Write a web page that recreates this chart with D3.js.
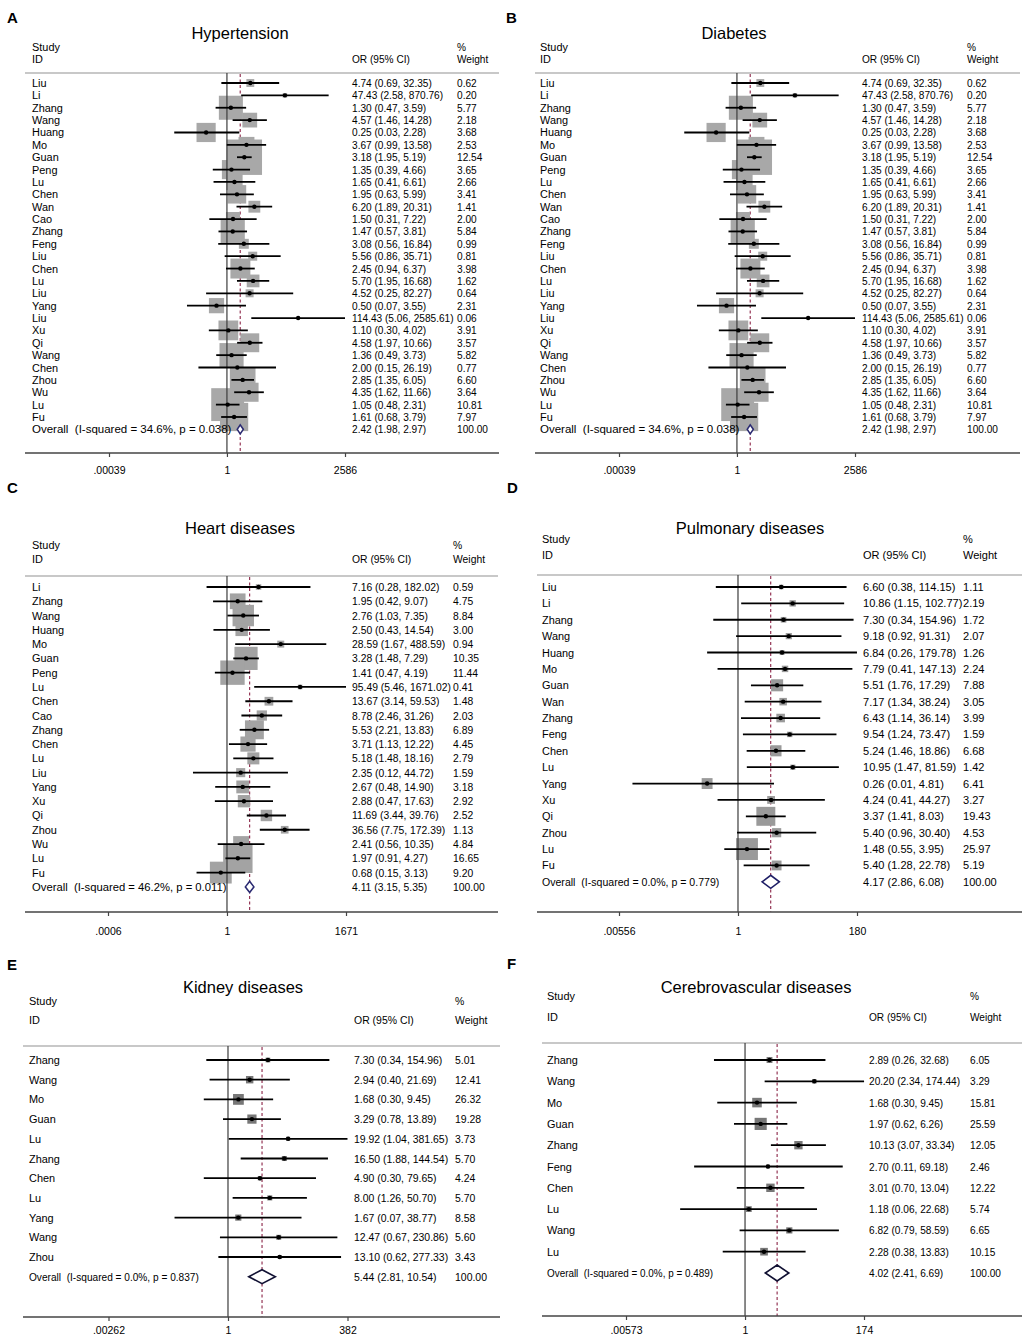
<!DOCTYPE html>
<html>
<head>
<meta charset="utf-8">
<script src="https://cdn.jsdelivr.net/npm/d3@7"></script>
<style>
  body { margin: 0; background: #fff; }
  svg text { font-family: "Liberation Sans", Arial, sans-serif; fill: #000; white-space: pre; }
</style>
</head>
<body>
<svg id="chart" width="1022" height="1339"></svg>
<script>
// ---- data ----
const hypertensionStudies = ['Liu','Li','Zhang','Wang','Huang','Mo','Guan','Peng','Lu','Chen','Wan','Cao','Zhang','Feng','Liu','Chen','Lu','Liu','Yang','Liu','Xu','Qi','Wang','Chen','Zhou','Wu','Lu','Fu'];
const hypertensionOR = [4.74,47.43,1.30,4.57,0.25,3.67,3.18,1.35,1.65,1.95,6.20,1.50,1.47,3.08,5.56,2.45,5.70,4.52,0.50,114.43,1.10,4.58,1.36,2.00,2.85,4.35,1.05,1.61];
const hypertensionLow = [0.69,2.58,0.47,1.46,0.03,0.99,1.95,0.39,0.41,0.63,1.89,0.31,0.57,0.56,0.86,0.94,1.95,0.25,0.07,5.06,0.30,1.97,0.49,0.15,1.35,1.62,0.48,0.68];
const hypertensionHigh = [32.35,870.76,3.59,14.28,2.28,13.58,5.19,4.66,6.61,5.99,20.31,7.22,3.81,16.84,35.71,6.37,16.68,82.27,3.55,2585.61,4.02,10.66,3.73,26.19,6.05,11.66,2.31,3.79];
const hypertensionWeight = [0.62,0.20,5.77,2.18,3.68,2.53,12.54,3.65,2.66,3.41,1.41,2.00,5.84,0.99,0.81,3.98,1.62,0.64,2.31,0.06,3.91,3.57,5.82,0.77,6.60,3.64,10.81,7.97];
const hypertensionOverall = [2.42, 1.98, 2.97];
const hypertensionHet = ['34.6%', '0.038'];
const hypertensionTicks = ['.00039', '1', '2586'];

const diabetesStudies = ['Liu','Li','Zhang','Wang','Huang','Mo','Guan','Peng','Lu','Chen','Wan','Cao','Zhang','Feng','Liu','Chen','Lu','Liu','Yang','Liu','Xu','Qi','Wang','Chen','Zhou','Wu','Lu','Fu'];
const diabetesOR = [4.74,47.43,1.30,4.57,0.25,3.67,3.18,1.35,1.65,1.95,6.20,1.50,1.47,3.08,5.56,2.45,5.70,4.52,0.50,114.43,1.10,4.58,1.36,2.00,2.85,4.35,1.05,1.61];
const diabetesLow = [0.69,2.58,0.47,1.46,0.03,0.99,1.95,0.39,0.41,0.63,1.89,0.31,0.57,0.56,0.86,0.94,1.95,0.25,0.07,5.06,0.30,1.97,0.49,0.15,1.35,1.62,0.48,0.68];
const diabetesHigh = [32.35,870.76,3.59,14.28,2.28,13.58,5.19,4.66,6.61,5.99,20.31,7.22,3.81,16.84,35.71,6.37,16.68,82.27,3.55,2585.61,4.02,10.66,3.73,26.19,6.05,11.66,2.31,3.79];
const diabetesWeight = [0.62,0.20,5.77,2.18,3.68,2.53,12.54,3.65,2.66,3.41,1.41,2.00,5.84,0.99,0.81,3.98,1.62,0.64,2.31,0.06,3.91,3.57,5.82,0.77,6.60,3.64,10.81,7.97];
const diabetesOverall = [2.42, 1.98, 2.97];
const diabetesHet = ['34.6%', '0.038'];
const diabetesTicks = ['.00039', '1', '2586'];

const heartStudies = ['Li','Zhang','Wang','Huang','Mo','Guan','Peng','Lu','Chen','Cao','Zhang','Chen','Lu','Liu','Yang','Xu','Qi','Zhou','Wu','Lu','Fu'];
const heartOR = [7.16,1.95,2.76,2.50,28.59,3.28,1.41,95.49,13.67,8.78,5.53,3.71,5.18,2.35,2.67,2.88,11.69,36.56,2.41,1.97,0.68];
const heartLow = [0.28,0.42,1.03,0.43,1.67,1.48,0.47,5.46,3.14,2.46,2.21,1.13,1.48,0.12,0.48,0.47,3.44,7.75,0.56,0.91,0.15];
const heartHigh = [182.02,9.07,7.35,14.54,488.59,7.29,4.19,1671.02,59.53,31.26,13.83,12.22,18.16,44.72,14.90,17.63,39.76,172.39,10.35,4.27,3.13];
const heartWeight = [0.59,4.75,8.84,3.00,0.94,10.35,11.44,0.41,1.48,2.03,6.89,4.45,2.79,1.59,3.18,2.92,2.52,1.13,4.84,16.65,9.20];
const heartOverall = [4.11, 3.15, 5.35];
const heartHet = ['46.2%', '0.011'];
const heartTicks = ['.0006', '1', '1671'];

const pulmonaryStudies = ['Liu','Li','Zhang','Wang','Huang','Mo','Guan','Wan','Zhang','Feng','Chen','Lu','Yang','Xu','Qi','Zhou','Lu','Fu'];
const pulmonaryOR = [6.60,10.86,7.30,9.18,6.84,7.79,5.51,7.17,6.43,9.54,5.24,10.95,0.26,4.24,3.37,5.40,1.48,5.40];
const pulmonaryLow = [0.38,1.15,0.34,0.92,0.26,0.41,1.76,1.34,1.14,1.24,1.46,1.47,0.01,0.41,1.41,0.96,0.55,1.28];
const pulmonaryHigh = [114.15,102.77,154.96,91.31,179.78,147.13,17.29,38.24,36.14,73.47,18.86,81.59,4.81,44.27,8.03,30.40,3.95,22.78];
const pulmonaryWeight = [1.11,2.19,1.72,2.07,1.26,2.24,7.88,3.05,3.99,1.59,6.68,1.42,6.41,3.27,19.43,4.53,25.97,5.19];
const pulmonaryOverall = [4.17, 2.86, 6.08];
const pulmonaryHet = ['0.0%', '0.779'];
const pulmonaryTicks = ['.00556', '1', '180'];

const kidneyStudies = ['Zhang','Wang','Mo','Guan','Lu','Zhang','Chen','Lu','Yang','Wang','Zhou'];
const kidneyOR = [7.30,2.94,1.68,3.29,19.92,16.50,4.90,8.00,1.67,12.47,13.10];
const kidneyLow = [0.34,0.40,0.30,0.78,1.04,1.88,0.30,1.26,0.07,0.67,0.62];
const kidneyHigh = [154.96,21.69,9.45,13.89,381.65,144.54,79.65,50.70,38.77,230.86,277.33];
const kidneyWeight = [5.01,12.41,26.32,19.28,3.73,5.70,4.24,5.70,8.58,5.60,3.43];
const kidneyOverall = [5.44, 2.81, 10.54];
const kidneyHet = ['0.0%', '0.837'];
const kidneyTicks = ['.00262', '1', '382'];

const cerebroStudies = ['Zhang','Wang','Mo','Guan','Zhang','Feng','Chen','Lu','Wang','Lu'];
const cerebroOR = [2.89,20.20,1.68,1.97,10.13,2.70,3.01,1.18,6.82,2.28];
const cerebroLow = [0.26,2.34,0.30,0.62,3.07,0.11,0.70,0.06,0.79,0.38];
const cerebroHigh = [32.68,174.44,9.45,6.26,33.34,69.18,13.04,22.68,58.59,13.83];
const cerebroWeight = [6.05,3.29,15.81,25.59,12.05,2.46,12.22,5.74,6.65,10.15];
const cerebroOverall = [4.02, 2.41, 6.69];
const cerebroHet = ['0.0%', '0.489'];
const cerebroTicks = ['.00573', '1', '174'];

// ---- layout of each panel ----
const panels = [
  { letter: 'A', title: 'Hypertension', studies: hypertensionStudies, or: hypertensionOR, lo: hypertensionLow, hi: hypertensionHigh, w: hypertensionWeight, overall: hypertensionOverall, het: hypertensionHet, ticks: hypertensionTicks,
    letterX: 7, letterY: 23, titleX: 240, titleY: 39, studyX: 32, head1: 50.5, head2: 62.5, orX: 352, wtX: 457,
    sepY: 73, x0: 25, x1: 499, row0: 83, step: 12.37, axisY: 453, tickY: 474, zeroX: 227, half: 118,
    boxK: 10, boxFill: '#a8a8a8', sx: 0.88, osx: 1.0, dh: 4.5, dColor: '#2a2a72' },
  { letter: 'B', title: 'Diabetes', studies: diabetesStudies, or: diabetesOR, lo: diabetesLow, hi: diabetesHigh, w: diabetesWeight, overall: diabetesOverall, het: diabetesHet, ticks: diabetesTicks,
    letterX: 506, letterY: 23, titleX: 734, titleY: 39, studyX: 540, head1: 50.5, head2: 62.5, orX: 862, wtX: 967,
    sepY: 73, x0: 535, x1: 1020, row0: 83, step: 12.37, axisY: 453, tickY: 474, zeroX: 737, half: 118,
    boxK: 10, boxFill: '#a8a8a8', sx: 0.88, osx: 1.0, dh: 4.5, dColor: '#2a2a72' },
  { letter: 'C', title: 'Heart diseases', studies: heartStudies, or: heartOR, lo: heartLow, hi: heartHigh, w: heartWeight, overall: heartOverall, het: heartHet, ticks: heartTicks,
    letterX: 7, letterY: 493, titleX: 240, titleY: 534, studyX: 32, head1: 549, head2: 563, orX: 352, wtX: 453,
    sepY: 576, x0: 25, x1: 498, row0: 587, step: 14.28, axisY: 912, tickY: 935, zeroX: 227, half: 119,
    boxK: 7.2, boxFill: '#a3a3a3', sx: 0.9, osx: 0.98, dh: 5.5, dColor: '#2a2a72' },
  { letter: 'D', title: 'Pulmonary diseases', studies: pulmonaryStudies, or: pulmonaryOR, lo: pulmonaryLow, hi: pulmonaryHigh, w: pulmonaryWeight, overall: pulmonaryOverall, het: pulmonaryHet, ticks: pulmonaryTicks,
    letterX: 507, letterY: 493, titleX: 750, titleY: 534, studyX: 542, head1: 543, head2: 559, orX: 863, wtX: 963,
    sepY: 575, x0: 537, x1: 1022, row0: 587, step: 16.38, axisY: 912, tickY: 935, zeroX: 738, half: 119,
    boxK: 4.3, boxFill: '#9a9a9a', sx: 0.96, osx: 0.92, dh: 6.5, dColor: '#1e1e66' },
  { letter: 'E', title: 'Kidney diseases', studies: kidneyStudies, or: kidneyOR, lo: kidneyLow, hi: kidneyHigh, w: kidneyWeight, overall: kidneyOverall, het: kidneyHet, ticks: kidneyTicks,
    letterX: 7, letterY: 970, titleX: 243, titleY: 993, studyX: 29, head1: 1005, head2: 1024, orX: 354, wtX: 455,
    sepY: 1046, x0: 23, x1: 500, row0: 1060, step: 19.7, axisY: 1317, tickY: 1334, zeroX: 228, half: 119.5,
    boxK: 2.1, boxFill: '#777', sx: 0.91, osx: 0.88, dh: 7, dColor: '#111133' },
  { letter: 'F', title: 'Cerebrovascular diseases', studies: cerebroStudies, or: cerebroOR, lo: cerebroLow, hi: cerebroHigh, w: cerebroWeight, overall: cerebroOverall, het: cerebroHet, ticks: cerebroTicks,
    letterX: 507, letterY: 969, titleX: 756, titleY: 993, studyX: 547, head1: 1000, head2: 1021, orX: 869, wtX: 970,
    sepY: 1043, x0: 542, x1: 1022, row0: 1060, step: 21.3, axisY: 1316, tickY: 1334, zeroX: 745, half: 119,
    boxK: 2.4, boxFill: '#777', sx: 0.88, osx: 0.86, dh: 8, dColor: '#111133' }
];

const FONT = 11.5;
const svg = d3.select('#chart');
svg.append('rect').attr('width', 1022).attr('height', 1339).attr('fill', '#fff');

const f2 = d3.format('.2f');

function addText(g, x, y, str, size, sx, anchor) {
  return g.append('text')
    .attr('transform', `translate(${x},${y}) scale(${sx},1)`)
    .attr('text-anchor', anchor || 'start')
    .style('font-size', size + 'px')
    .text(str);
}

function drawPanel(p) {
  const g = svg.append('g').attr('class', 'panel');
  const rows = p.studies.map((s, i) => ({ study: s, or: p.or[i], lo: p.lo[i], hi: p.hi[i], w: p.w[i], i }));
  const n = rows.length;

  const x = d3.scaleLog()
    .domain([+p.ticks[0], +p.ticks[2]])
    .range([p.zeroX - p.half, p.zeroX + p.half]);
  const y = d3.scaleLinear().domain([0, n]).range([p.row0, p.row0 + n * p.step]);
  const side = d3.scaleSqrt().domain([0, 1]).range([0, p.boxK]);

  // panel letter and title
  g.append('text').attr('x', p.letterX).attr('y', p.letterY)
    .style('font-size', '15px').style('font-weight', 'bold')
    .text(p.letter);
  addText(g, p.titleX, p.titleY, p.title, 16.5, 1, 'middle');

  // column headers
  addText(g, p.studyX, p.head1, 'Study', FONT, 0.95);
  addText(g, p.studyX, p.head2, 'ID', FONT, 0.95);
  addText(g, p.orX, p.head2, 'OR (95% CI)', FONT, p.sx);
  addText(g, p.wtX, p.head1, '%', FONT, p.sx);
  addText(g, p.wtX, p.head2, 'Weight', FONT, p.sx);

  g.append('line')
    .attr('x1', p.x0).attr('x2', p.x1).attr('y1', p.sepY).attr('y2', p.sepY)
    .attr('stroke', '#c8c8c8').attr('stroke-width', 1.8);

  // overall dashed reference
  g.append('line')
    .attr('x1', x(p.overall[0])).attr('x2', x(p.overall[0]))
    .attr('y1', p.sepY + 1).attr('y2', p.axisY)
    .attr('stroke', '#8b2346').attr('stroke-width', 1.1).attr('stroke-dasharray', '3,2.5');

  // weight boxes
  g.append('g').selectAll('rect')
    .data(rows)
    .join('rect')
    .attr('x', d => x(d.or) - side(d.w) / 2)
    .attr('y', d => y(d.i) - side(d.w) / 2)
    .attr('width', d => side(d.w))
    .attr('height', d => side(d.w))
    .attr('fill', p.boxFill);

  // null line at OR = 1
  g.append('line')
    .attr('x1', x(1)).attr('x2', x(1)).attr('y1', p.sepY).attr('y2', p.axisY)
    .attr('stroke', '#3c3c3c').attr('stroke-width', 1.2);

  // confidence intervals
  g.append('g').selectAll('line')
    .data(rows)
    .join('line')
    .attr('x1', d => x(d.lo)).attr('x2', d => x(d.hi))
    .attr('y1', d => y(d.i)).attr('y2', d => y(d.i))
    .attr('stroke', '#000').attr('stroke-width', 1.8);

  g.append('g').selectAll('circle')
    .data(rows)
    .join('circle')
    .attr('cx', d => x(d.or)).attr('cy', d => y(d.i))
    .attr('r', 2.2).attr('fill', '#000');

  // pooled diamond
  const oy = y(n);
  const [o, ol, oh] = p.overall;
  g.append('polygon')
    .attr('points', [[x(ol), oy], [x(o), oy - p.dh], [x(oh), oy], [x(o), oy + p.dh]].join(' '))
    .attr('fill', '#fff').attr('stroke', p.dColor).attr('stroke-width', 1.6);

  // text columns
  const txt = g.append('g');
  rows.forEach(d => {
    addText(txt, p.studyX, y(d.i) + 4, d.study, FONT, 0.95);
    addText(txt, p.orX, y(d.i) + 4, `${f2(d.or)} (${f2(d.lo)}, ${f2(d.hi)})`, FONT, p.sx);
    addText(txt, p.wtX, y(d.i) + 4, f2(d.w), FONT, p.sx);
  });
  addText(txt, p.studyX, oy + 4, `Overall  (I-squared = ${p.het[0]}, p = ${p.het[1]})`, FONT, p.osx);
  addText(txt, p.orX, oy + 4, `${f2(o)} (${f2(ol)}, ${f2(oh)})`, FONT, p.sx);
  addText(txt, p.wtX, oy + 4, '100.00', FONT, p.sx);

  // x axis
  g.append('line')
    .attr('x1', p.x0).attr('x2', p.x1).attr('y1', p.axisY).attr('y2', p.axisY)
    .attr('stroke', '#444').attr('stroke-width', 1.5);
  const axis = d3.axisBottom(x)
    .tickValues(p.ticks.map(Number))
    .tickFormat((d, i) => p.ticks[i])
    .tickSize(4)
    .tickPadding(8);
  const ax = g.append('g').attr('transform', `translate(0, ${p.axisY})`).call(axis);
  ax.select('.domain').remove();
  ax.selectAll('.tick line').attr('stroke', '#444').attr('stroke-width', 1.2);
  ax.selectAll('.tick text')
    .attr('y', null).attr('dy', null)
    .attr('transform', `translate(0, ${p.tickY - p.axisY})`)
    .style('font-size', '10.5px').attr('fill', '#000');
}

panels.forEach(drawPanel);
</script>
</body>
</html>
